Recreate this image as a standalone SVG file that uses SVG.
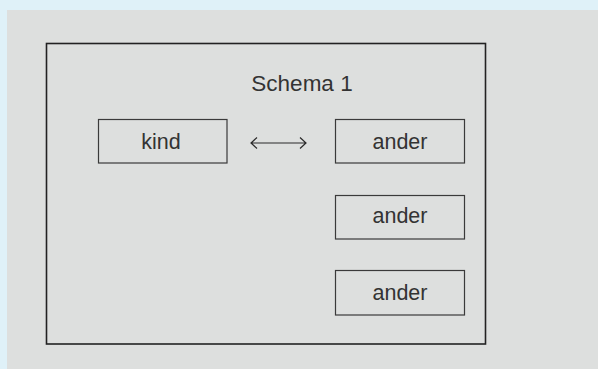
<svg xmlns="http://www.w3.org/2000/svg" width="598" height="369" viewBox="0 0 598 369">
<style>
.lbl{font-family:"Liberation Sans",Arial,sans-serif;font-size:21.5px;fill:#333;text-anchor:middle}
.box{fill:none;stroke:#3a3a3a;stroke-width:1.2}
.conn{fill:none;stroke:#2a2a2a;stroke-width:1.2}
</style>
<rect x="0" y="0" width="598" height="369" fill="#dff1f8"/>
<rect x="7" y="10" width="591" height="359" fill="#dddfde"/>
<g id="schema">
<rect x="46.5" y="43.5" width="439" height="300.5" fill="none" stroke="#222" stroke-width="1.6"/>
<text x="302" y="91" class="lbl" style="font-size:22.5px">Schema 1</text>
</g>
<g id="kind">
<rect class="box" x="98.5" y="119.5" width="128.5" height="43.5"/>
<text x="161" y="149" class="lbl">kind</text>
</g>
<g id="ander1">
<rect class="box" x="335.5" y="119.5" width="129" height="43.5"/>
<text x="400" y="149" class="lbl">ander</text>
</g>
<g id="ander2">
<rect class="box" x="335.5" y="195.5" width="129" height="43.5"/>
<text x="400" y="223" class="lbl">ander</text>
</g>
<g id="ander3">
<rect class="box" x="335.5" y="270.5" width="129" height="44.5"/>
<text x="400" y="300" class="lbl">ander</text>
</g>
<g id="connectors">
<path class="conn" d="M251 143 H306 M257 137.5 L251 143 L257 148.5 M300 137.5 L306 143 L300 148.5"/>
</g>
</svg>
